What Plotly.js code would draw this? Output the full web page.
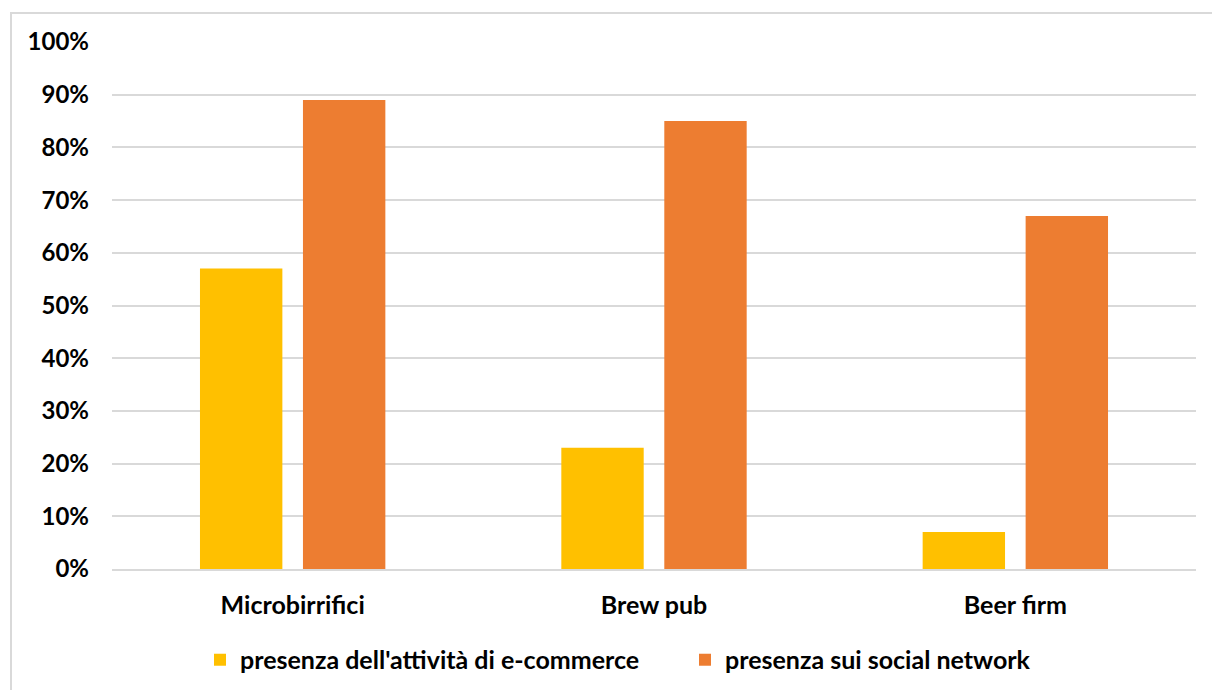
<!DOCTYPE html>
<html>
<head>
<meta charset="utf-8">
<script src="https://cdn.plot.ly/plotly-3.0.1.min.js"></script>
<style>
  html, body { margin: 0; padding: 0; background: #fff; }
  #wrap { position: relative; width: 1212px; height: 690px; }
  #chart { position: absolute; left: 0; top: 0; width: 1212px; height: 690px; }
  #frame { position: absolute; left: 10px; top: 12px; width: 1210px; height: 690px;
           border-left: 2px solid #d9d9d9; border-top: 2px solid #d9d9d9; pointer-events: none; }
</style>
</head>
<body>
<div id="wrap">
  <div id="chart"></div>
  <div id="frame"></div>
</div>
<script>
const categories = ["Microbirrifici", "Brew pub", "Beer firm"];
const seriesNames = ["presenza dell'attività di e-commerce", "presenza sui social network"];
const ecommerce = [0.57, 0.23, 0.07];
const social = [0.89, 0.85, 0.67];

const fam = "Lato, 'Open Sans', sans-serif";
const font = {family: fam, size: 24, color: "#000", weight: "bold"};
const font25 = {family: fam, size: 25, color: "#000", weight: "bold"};

const traces = [
  {type: "bar", name: seriesNames[0], x: categories, y: ecommerce,
   marker: {color: "#FFC000"}, hoverinfo: "none"},
  {type: "bar", name: seriesNames[1], x: categories, y: social,
   marker: {color: "#ED7D31"}, hoverinfo: "none"}
];

const layout = {
  width: 1212, height: 690,
  margin: {l: 112, r: 16, t: 42, b: 121},
  paper_bgcolor: "#fff", plot_bgcolor: "#fff",
  font: font,
  barmode: "group",
  bargap: 0.43,
  bargroupgap: 0.2,
  showlegend: true,
  legend: {orientation: "h", xref: "container", yref: "container",
           x: 0.165, xanchor: "left", y: 0.0435, yanchor: "middle",
           font: font25, itemwidth: 30, entrywidth: 440, entrywidthmode: "pixels"},
  xaxis: {type: "category", showgrid: false, zeroline: false, showline: true, automargin: false,
          linecolor: "#d9d9d9", linewidth: 2, ticks: "", tickfont: font25, ticklabelstandoff: 13},
  yaxis: {range: [0, 1.0], dtick: 0.1, tick0: 0, tickformat: ".0%", showgrid: true, automargin: false,
          gridcolor: "#d9d9d9", gridwidth: 2, zeroline: false, showline: false,
          ticks: "", tickfont: font, ticklabelstandoff: 22}
};

Plotly.newPlot("chart", traces, layout, {displayModeBar: false, staticPlot: true});
</script>
</body>
</html>
